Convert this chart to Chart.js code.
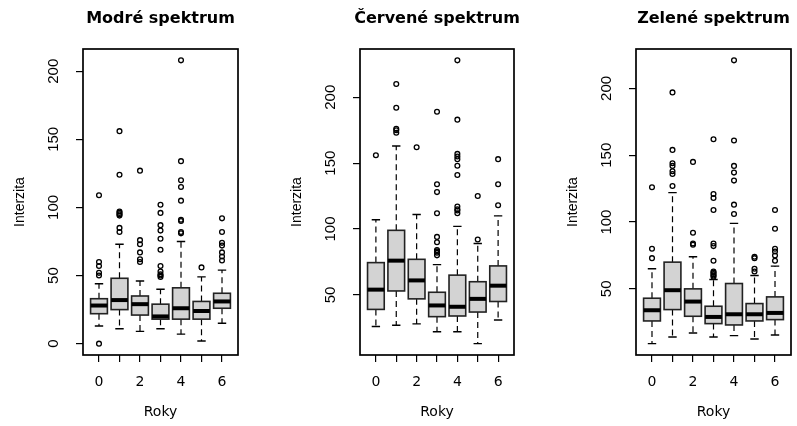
<!DOCTYPE html>
<html>
<head>
<meta charset="utf-8">
<script src="https://cdn.jsdelivr.net/npm/chart.js@4"></script>
<style>
  body { margin: 0; background: #fff; width: 797px; height: 426px; overflow: hidden; position: relative; }
  canvas { position: absolute; top: 0; }
</style>
</head>
<body>
<canvas id="blue" width="277" height="426" style="left:0px"></canvas>
<canvas id="red" width="277" height="426" style="left:277px"></canvas>
<canvas id="green" width="244" height="426" style="left:553px"></canvas>
<script>
const years = [0, 1, 2, 3, 4, 5, 6];
const xTickLabels = ['0', '', '2', '', '4', '', '6'];

// Modré spektrum
const blueLow  = [13, 11, 9, 11, 7, 2, 15];
const blueQ1   = [22, 25, 21, 18, 18, 18, 26];
const blueMed  = [28, 32, 29, 20, 26, 24, 31];
const blueQ3   = [33, 48, 35, 29, 41, 31, 37];
const blueHigh = [44, 73, 46, 40, 75, 49, 54];
const blueOut  = [
  [109, 60, 57, 52, 50, 0],
  [156, 124, 97, 96, 95, 94, 85, 82],
  [127, 76, 73, 67, 62, 60],
  [102, 96, 87, 83, 77, 69, 57, 53, 51, 50, 49],
  [208, 134, 120, 115, 105, 91, 90, 82, 81],
  [56],
  [92, 82, 74, 72, 67, 64, 61]
];
const blueTicks = [0, 50, 100, 150, 200];

// Červené spektrum
const redLow  = [26, 27, 28, 22, 22, 13, 31];
const redQ1   = [39, 53, 47, 33.5, 34, 37, 45];
const redMed  = [54, 76, 61, 42, 41, 47, 57];
const redQ3   = [74.5, 99, 77, 52, 65, 60, 72];
const redHigh = [107, 163, 111, 73, 102, 89, 110];
const redOut  = [
  [156],
  [210, 192, 176, 175, 173],
  [162],
  [189, 134, 128, 112, 94, 90, 84, 83, 82, 80],
  [228, 183, 157, 155, 153, 148, 141, 117, 115, 114, 112],
  [125, 92],
  [153, 134, 118]
];
const redTicks = [50, 100, 150, 200];

// Zelené spektrum
const greenLow  = [9, 14, 17, 14, 15, 12.5, 15.5];
const greenQ1   = [26, 34.5, 29.5, 24, 23, 26, 27];
const greenMed  = [34, 49, 40.5, 29, 31, 31, 32];
const greenQ3   = [43, 70, 50, 37, 54, 39, 44];
const greenHigh = [65, 122, 74, 57, 99, 60, 67];
const greenOut  = [
  [126, 80, 73],
  [197, 154, 144, 142, 138, 136, 127],
  [145, 92, 84, 83],
  [162, 121, 118, 109, 84, 82, 71, 63, 62, 61, 60, 59],
  [221, 161, 142, 137, 131, 113, 106],
  [74, 73, 65, 63],
  [109, 95, 80, 78, 75, 71]
];
const greenTicks = [50, 100, 150, 200];

function makePanel(id, title, low, q1, med, q3, high, out, yTicks, padRight) {
  // R style 4% range extension
  const all = low.concat(high, out.flat());
  const lo = Math.min(...all), hi = Math.max(...all);
  const ext = (hi - lo) * 0.04;

  const boxes = {
    id: 'boxes',
    beforeDatasetsDraw(chart) {
      const { ctx, scales: { x, y } } = chart;
      const step = x.getPixelForValue(1) - x.getPixelForValue(0);
      const half = step * 0.41;
      const staple = half * 0.5;
      ctx.save();
      ctx.strokeStyle = '#000';
      years.forEach((yr, i) => {
        const cx = x.getPixelForValue(yr);
        const pLo = y.getPixelForValue(low[i]);
        const pQ1 = y.getPixelForValue(q1[i]);
        const pMed = y.getPixelForValue(med[i]);
        const pQ3 = y.getPixelForValue(q3[i]);
        const pHi = y.getPixelForValue(high[i]);
        ctx.lineWidth = 1.2;
        ctx.setLineDash([6, 4]);
        ctx.beginPath();
        ctx.moveTo(cx, pQ3); ctx.lineTo(cx, pHi);
        ctx.moveTo(cx, pQ1); ctx.lineTo(cx, pLo);
        ctx.stroke();
        ctx.setLineDash([]);
        ctx.lineWidth = 1.4;
        ctx.beginPath();
        ctx.moveTo(cx - staple, pHi); ctx.lineTo(cx + staple, pHi);
        ctx.moveTo(cx - staple, pLo); ctx.lineTo(cx + staple, pLo);
        ctx.stroke();
        ctx.fillStyle = '#d3d3d3';
        ctx.fillRect(cx - half, pQ3, half * 2, pQ1 - pQ3);
        ctx.lineWidth = 1.6;
        ctx.strokeStyle = '#222';
        ctx.strokeRect(cx - half, pQ3, half * 2, pQ1 - pQ3);
        ctx.strokeStyle = '#000';
        ctx.lineWidth = 4;
        ctx.beginPath();
        ctx.moveTo(cx - half, pMed); ctx.lineTo(cx + half, pMed);
        ctx.stroke();
      });
      ctx.restore();
    },
    afterDraw(chart) {
      const { ctx, chartArea: a, scales: { y } } = chart;
      ctx.save();
      ctx.strokeStyle = '#000';
      ctx.lineWidth = 1.7;
      ctx.strokeRect(a.left, a.top, a.right - a.left, a.bottom - a.top);
      ctx.fillStyle = '#000';
      ctx.font = 'bold 16px "DejaVu Sans"';
      ctx.textAlign = 'center';
      ctx.textBaseline = 'middle';
      ctx.fillText(title, (a.left + a.right) / 2, 19);
      ctx.font = '15px "Liberation Sans"';
      yTicks.forEach(v => {
        ctx.save();
        ctx.translate(a.left - 29, y.getPixelForValue(v));
        ctx.rotate(-Math.PI / 2);
        ctx.fillText(String(v), 0, 0);
        ctx.restore();
      });
      ctx.restore();
    }
  };

  const points = [];
  years.forEach((yr, i) => out[i].forEach(v => points.push({ x: yr, y: v })));

  new Chart(document.getElementById(id), {
    type: 'scatter',
    data: {
      datasets: [{
        data: points,
        pointRadius: 2.4,
        pointBorderWidth: 1.3,
        borderColor: '#000',
        backgroundColor: 'rgba(0,0,0,0)'
      }]
    },
    options: {
      responsive: false,
      animation: false,
      events: [],
      layout: { padding: { top: 49, right: padRight, left: 0, bottom: 0 } },
      plugins: { legend: { display: false }, tooltip: { enabled: false } },
      scales: {
        x: {
          type: 'linear',
          min: -0.78,
          max: 6.78,
          afterBuildTicks: s => { s.ticks = years.map(v => ({ value: v })); },
          afterFit: s => { s.height = 71; },
          border: { display: false },
          grid: { drawOnChartArea: false, drawTicks: true, tickLength: 7, color: '#000', lineWidth: 1.2 },
          ticks: {
            autoSkip: false, maxRotation: 0, padding: 12, color: '#000',
            font: { family: 'DejaVu Sans', size: 14 },
            callback: v => xTickLabels[years.indexOf(v)]
          },
          title: { display: true, text: 'Roky', color: '#000', font: { family: 'DejaVu Sans', size: 14 }, padding: { top: 0, bottom: 5 } }
        },
        y: {
          min: lo - ext,
          max: hi + ext,
          afterBuildTicks: s => { s.ticks = yTicks.map(v => ({ value: v })); },
          afterFit: s => { s.width = 83; },
          border: { display: false },
          grid: { drawOnChartArea: false, drawTicks: true, tickLength: 7, color: '#000', lineWidth: 1.2 },
          ticks: { display: false },
          title: { display: true, text: 'Interzita', color: '#000', font: { family: 'Liberation Sans', size: 14 }, padding: { top: 12, bottom: 0 } }
        }
      }
    },
    plugins: [boxes]
  });
}

makePanel('blue', 'Modré spektrum', blueLow, blueQ1, blueMed, blueQ3, blueHigh, blueOut, blueTicks, 39);
makePanel('red', 'Červené spektrum', redLow, redQ1, redMed, redQ3, redHigh, redOut, redTicks, 40);
makePanel('green', 'Zelené spektrum', greenLow, greenQ1, greenMed, greenQ3, greenHigh, greenOut, greenTicks, 6);
</script>
</body>
</html>
